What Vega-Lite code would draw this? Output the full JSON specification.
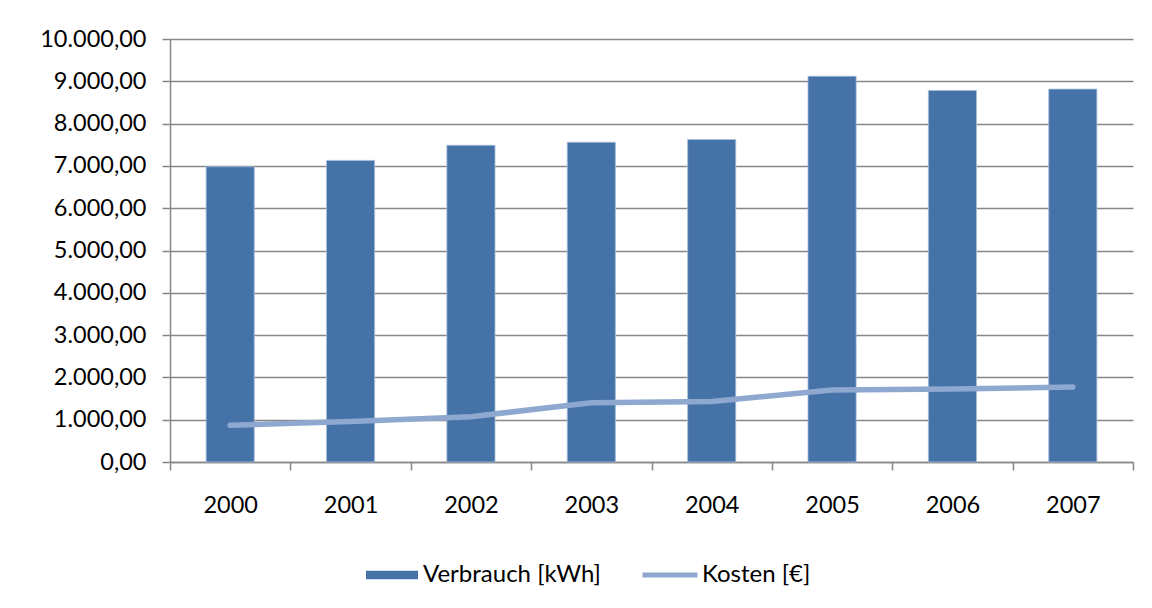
{
  "$schema": "https://vega.github.io/schema/vega-lite/v6.json",
  "width": 963,
  "height": 423,
  "autosize": {"type": "none"},
  "padding": {"left": 170, "top": 39, "right": 19, "bottom": 146},
  "background": "white",
  "config": {
    "locale": {"number": {"decimal": ",", "thousands": ".", "grouping": [3], "currency": ["", " €"]}},
    "font": "Lato",
    "view": {"stroke": null},
    "axis": {"labelFont": "Lato", "labelFontSize": 23.5, "labelColor": "#000000", "domainColor": "#878787", "tickColor": "#878787", "gridColor": "#878787", "domainWidth": 1.5, "tickWidth": 1.5, "gridWidth": 1.3, "tickSize": 8, "title": null, "labelOverlap": false},
    "legend": {"labelFont": "Lato", "labelFontSize": 24, "labelColor": "#000000", "title": null, "padding": 0, "labelLimit": 400}
  },
  "data": {
    "values": [
      {"Jahr": "2000", "Verbrauch": 6980, "Kosten": 866},
      {"Jahr": "2001", "Verbrauch": 7130, "Kosten": 960},
      {"Jahr": "2002", "Verbrauch": 7487, "Kosten": 1071},
      {"Jahr": "2003", "Verbrauch": 7558, "Kosten": 1403},
      {"Jahr": "2004", "Verbrauch": 7624, "Kosten": 1430},
      {"Jahr": "2005", "Verbrauch": 9120, "Kosten": 1703},
      {"Jahr": "2006", "Verbrauch": 8784, "Kosten": 1727},
      {"Jahr": "2007", "Verbrauch": 8816, "Kosten": 1773}
    ]
  },
  "encoding": {
    "x": {
      "field": "Jahr", "type": "nominal",
      "scale": {"paddingInner": 0, "paddingOuter": 0},
      "axis": {"labelAngle": 0, "tickBand": "extent", "labelPadding": 23, "grid": false}
    }
  },
  "layer": [
    {
      "mark": {"type": "bar", "width": {"band": 0.4}, "stroke": "#a9bedb", "strokeWidth": 0.8},
      "encoding": {
        "y": {
          "field": "Verbrauch", "type": "quantitative",
          "scale": {"domain": [0, 10000], "nice": false},
          "axis": {"format": ",.2f", "values": [0,1000,2000,3000,4000,5000,6000,7000,8000,9000,10000], "labelPadding": 16, "grid": true, "labelOverlap": false}
        },
        "fill": {
          "datum": "Verbrauch [kWh]",
          "scale": {"range": ["#4573a7"]},
          "legend": {"orient": "none", "legendX": 196, "legendY": 510, "symbolType": "M-1,-0.16H1V0.16H-1Z", "symbolSize": 2704, "symbolStrokeWidth": 0, "labelOffset": 5}
        }
      }
    },
    {
      "mark": {"type": "line", "strokeWidth": 5.5, "strokeCap": "round", "strokeJoin": "round", "interpolate": "linear"},
      "encoding": {
        "y": {
          "field": "Kosten", "type": "quantitative",
          "scale": {"domain": [0, 10000], "nice": false},
          "axis": {"format": ",.2f", "values": [0,1000,2000,3000,4000,5000,6000,7000,8000,9000,10000], "labelPadding": 16, "grid": true, "labelOverlap": false}
        },
        "stroke": {
          "datum": "Kosten [€]",
          "scale": {"range": ["#8ea8d0"]},
          "legend": {"orient": "none", "legendX": 470, "legendY": 506, "symbolType": "stroke", "symbolSize": 3025, "symbolStrokeWidth": 5, "labelOffset": 2}
        }
      }
    }
  ]
}
